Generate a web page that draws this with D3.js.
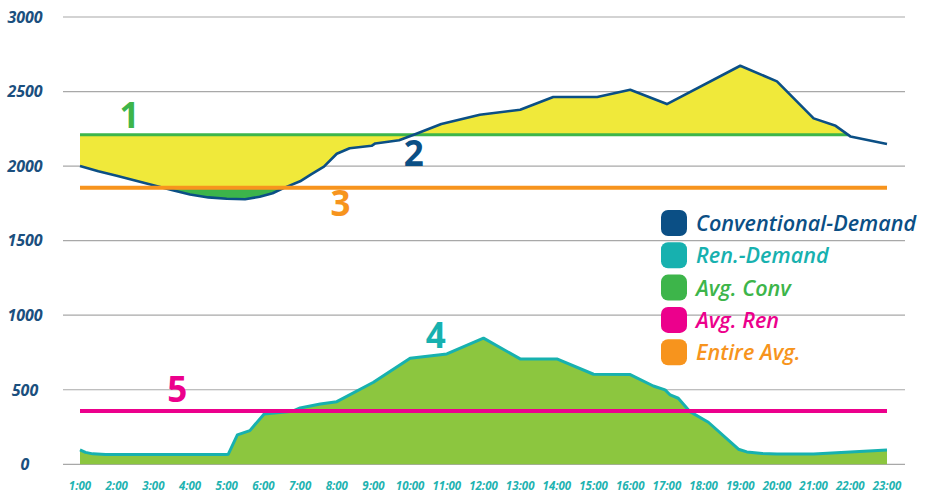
<!DOCTYPE html>
<html>
<head>
<meta charset="utf-8">
<script src="https://cdn.jsdelivr.net/npm/d3@7"></script>
<style>
  html, body { margin: 0; padding: 0; background: #ffffff; }
  svg { display: block; }
  text { font-family: "Open Sans", "Noto Sans", sans-serif; }
</style>
</head>
<body>
<svg id="chart" width="925" height="495"></svg>
<script>
// ---------- DATA ----------
const hourLabels = ["1:00","2:00","3:00","4:00","5:00","6:00","7:00","8:00","9:00","10:00","11:00","12:00",
  "13:00","14:00","15:00","16:00","17:00","18:00","19:00","20:00","21:00","22:00","23:00"];
const yTicks = [0, 500, 1000, 1500, 2000, 2500, 3000];

// Conventional demand (hour of day, value)
const convHours = [1, 1.5, 2, 2.5, 3, 3.5, 4, 4.5, 5, 5.5, 5.9, 6.25, 6.55, 7, 7.3, 7.65, 8, 8.35, 8.95, 9.05,
  9.45, 9.7, 10.1, 10.85, 11.9, 13, 13.9, 15.1, 16, 17, 19, 20, 21, 21.6, 22, 23];
const convValues = [2000, 1966, 1935, 1903, 1872, 1840, 1810, 1790, 1781, 1778, 1794, 1818, 1852, 1898, 1945, 1997, 2083, 2120, 2136, 2152,
  2165, 2173, 2210, 2282, 2344, 2378, 2463, 2463, 2512, 2416, 2673, 2568, 2320, 2270, 2199, 2148];

// Renewable demand (hour of day, value)
const renHours = [1, 1.15, 1.35, 1.7, 2, 3, 4, 5, 5.04, 5.29, 5.63, 6.02, 6.8, 7, 7.55, 8, 9, 10, 11, 12, 13, 14, 15, 16,
  16.63, 16.95, 17.09, 17.31, 17.63, 18.13, 18.95, 19.18, 19.6, 20, 21, 22, 23];
const renValues = [96, 80, 70, 66, 65, 65, 65, 66, 67, 197, 226, 338, 356, 378, 405, 420, 550, 711, 740, 846, 707, 707, 604, 602,
  525, 499, 465, 443, 353, 282, 101, 83, 73, 69, 69, 83, 96];

const avgConv = 2210;
const avgRen = 358;
const entireAvg = 1855;

const legendNames = ["Conventional-Demand", "Ren.-Demand", "Avg. Conv", "Avg. Ren", "Entire Avg."];
const legendColors = ["#0b4f85", "#17b1af", "#3db54a", "#ec008c", "#f7941d"];

// ---------- CHART ----------
const svg = d3.select("#chart");
const x = d3.scaleLinear().domain([1, 23]).range([80, 887]);
const y = d3.scaleLinear().domain([0, 3000]).range([464.3, 17]);

const conv = convHours.map((h, i) => ({ h, v: convValues[i] }));
const ren = renHours.map((h, i) => ({ h, v: renValues[i] }));

// gridlines
svg.append("g").selectAll("line").data(yTicks).join("line")
  .attr("x1", 63).attr("x2", 905)
  .attr("y1", d => y(d)).attr("y2", d => y(d))
  .attr("stroke", "#a8a8a8").attr("stroke-width", 1.2);

// y labels
svg.append("g").selectAll("text").data(yTicks).join("text")
  .attr("x", 25).attr("y", d => y(d)).attr("dy", "0.36em")
  .attr("text-anchor", "middle")
  .attr("font-size", 16).attr("font-weight", 700).attr("font-style", "italic")
  .attr("fill", "#1b4f7e")
  .text(d => d);

// x labels
svg.append("g").selectAll("text").data(hourLabels).join("text")
  .attr("x", (d, i) => x(i + 1)).attr("y", 490)
  .attr("text-anchor", "middle")
  .attr("font-size", 11.5).attr("font-weight", 700).attr("font-style", "italic")
  .attr("fill", "#1fb3b1")
  .text(d => d);

// renewable area + line
svg.append("path").datum(ren)
  .attr("d", d3.area().x(d => x(d.h)).y0(y(0)).y1(d => y(d.v)))
  .attr("fill", "#8cc63f");
svg.append("path").datum(ren)
  .attr("d", d3.line().x(d => x(d.h)).y(d => y(d.v)))
  .attr("fill", "none").attr("stroke", "#17b1af").attr("stroke-width", 3).attr("stroke-linejoin", "round");

// crossing of conventional demand below avgConv at end of day
let crossH = 23;
for (let i = conv.length - 1; i > 0; i--) {
  const a = conv[i - 1], b = conv[i];
  if (a.v >= avgConv && b.v < avgConv) {
    crossH = a.h + (a.v - avgConv) / (a.v - b.v) * (b.h - a.h);
    break;
  }
}

const defs = svg.append("defs");
defs.append("clipPath").attr("id", "clipYellow").append("rect")
  .attr("x", x(1)).attr("y", 0).attr("width", x(crossH) - x(1)).attr("height", 495);
defs.append("clipPath").attr("id", "clipBelowAvg").append("rect")
  .attr("x", 0).attr("y", y(entireAvg)).attr("width", 925).attr("height", 495);

// yellow area between conv and avgConv
svg.append("path").datum(conv)
  .attr("clip-path", "url(#clipYellow)")
  .attr("d", d3.area().x(d => x(d.h)).y0(y(avgConv)).y1(d => y(d.v)))
  .attr("fill", "#f0e93a");

// green area where conv below entire avg
svg.append("path").datum(conv)
  .attr("clip-path", "url(#clipBelowAvg)")
  .attr("d", d3.area().x(d => x(d.h)).y0(y(entireAvg)).y1(d => y(d.v)))
  .attr("fill", "#3cb44b");

// avg conv line
svg.append("line")
  .attr("x1", x(1)).attr("x2", x(crossH))
  .attr("y1", y(avgConv)).attr("y2", y(avgConv))
  .attr("stroke", "#3db54a").attr("stroke-width", 3);

// conventional line
svg.append("path").datum(conv)
  .attr("d", d3.line().x(d => x(d.h)).y(d => y(d.v)))
  .attr("fill", "none").attr("stroke", "#0b4f85").attr("stroke-width", 2.6).attr("stroke-linejoin", "round");

// entire avg line
svg.append("line")
  .attr("x1", x(1)).attr("x2", x(23))
  .attr("y1", y(entireAvg)).attr("y2", y(entireAvg))
  .attr("stroke", "#f7941d").attr("stroke-width", 4);

// avg ren line
svg.append("line")
  .attr("x1", x(1)).attr("x2", x(23))
  .attr("y1", y(avgRen)).attr("y2", y(avgRen))
  .attr("stroke", "#ec008c").attr("stroke-width", 4);

// number annotations
const notes = [
  { t: "1", h: 2.35, v: 2255, c: "#3db54a" },
  { t: "2", h: 10.1, v: 2000, c: "#0b4f85" },
  { t: "3", h: 8.1, v: 1665, c: "#f7941d" },
  { t: "4", h: 10.7, v: 780, c: "#17b1af" },
  { t: "5", h: 3.65, v: 418, c: "#ec008c" }
];
svg.append("g").selectAll("text").data(notes).join("text")
  .attr("x", d => x(d.h)).attr("y", d => y(d.v))
  .attr("text-anchor", "middle")
  .attr("font-size", 35).attr("font-weight", 700)
  .attr("fill", d => d.c)
  .text(d => d.t);

// legend
const lg = svg.append("g");
legendNames.forEach((name, i) => {
  const cy = 223 + i * 32.3;
  lg.append("rect").attr("x", 661).attr("y", cy - 13).attr("width", 26).attr("height", 26)
    .attr("rx", 7).attr("fill", legendColors[i]);
  lg.append("text").attr("x", 696).attr("y", cy + 8)
    .attr("font-size", 21.6).attr("font-weight", 600).attr("font-style", "italic")
    .attr("fill", legendColors[i])
    .text(name);
});
</script>
</body>
</html>
